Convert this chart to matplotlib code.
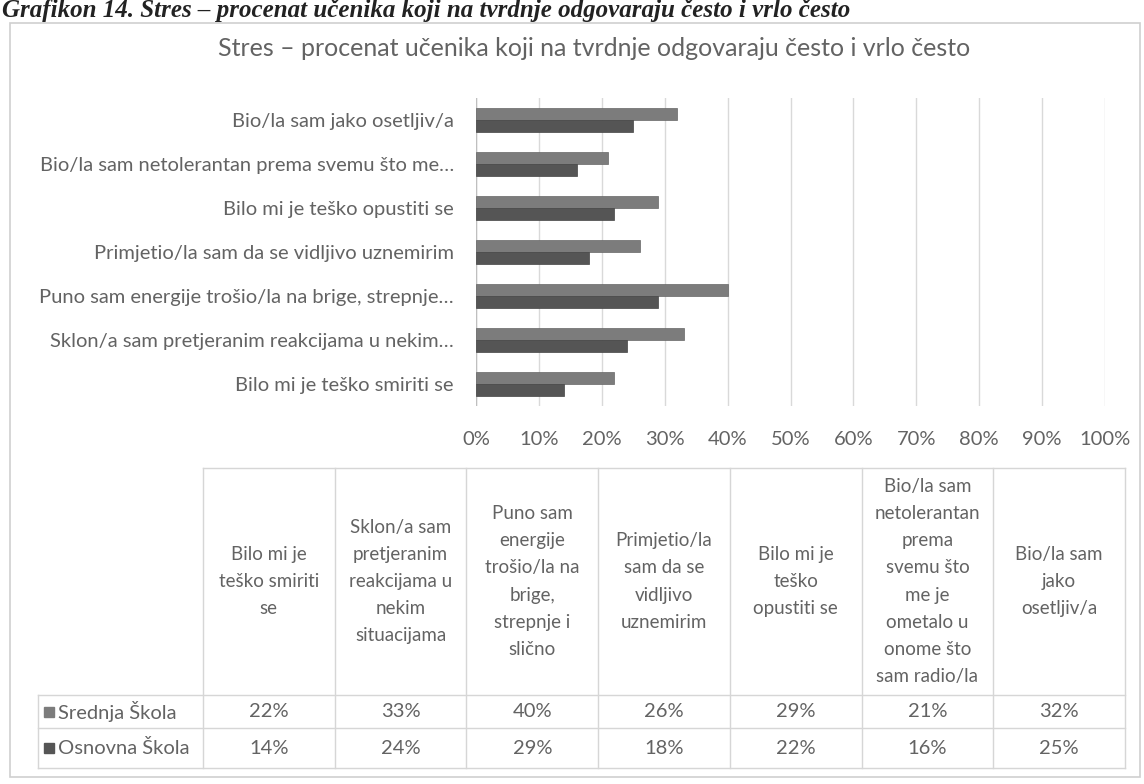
import matplotlib
matplotlib.use("Agg")
import matplotlib.pyplot as plt
import numpy as np

# data: order as in the data table (first = bottom bar of chart)
categories = [
    "Bilo mi je\nteško smiriti\nse",
    "Sklon/a sam\npretjeranim\nreakcijama u\nnekim\nsituacijama",
    "Puno sam\nenergije\ntrošio/la na\nbrige,\nstrepnje i\nslično",
    "Primjetio/la\nsam da se\nvidljivo\nuznemirim",
    "Bilo mi je\nteško\nopustiti se",
    "Bio/la sam\nnetolerantan\nprema\nsvemu što\nme je\nometalo u\nonome što\nsam radio/la",
    "Bio/la sam\njako\nosetljiv/a",
]
axis_labels = [
    "Bilo mi je teško smiriti se",
    "Sklon/a sam pretjeranim reakcijama u nekim…",
    "Puno sam energije trošio/la na brige, strepnje…",
    "Primjetio/la sam da se vidljivo uznemirim",
    "Bilo mi je teško opustiti se",
    "Bio/la sam netolerantan prema svemu što me…",
    "Bio/la sam jako osetljiv/a",
]
series_names = ["Srednja Škola", "Osnovna Škola"]
srednja = [22, 33, 40, 26, 29, 21, 32]
osnovna = [14, 24, 29, 18, 22, 16, 25]
x_ticks = [0, 10, 20, 30, 40, 50, 60, 70, 80, 90, 100]

caption = "Grafikon 14. Stres – procenat učenika koji na tvrdnje odgovaraju često i vrlo često"
title = "Stres – procenat učenika koji na tvrdnje odgovaraju često i vrlo često"

C_SRED = "#7c7c7c"
C_OSN = "#555555"
TXT = "#636363"
GRID = "#d9d9d9"

plt.rcParams['font.family'] = ['Lato', 'DejaVu Sans']

W, H = 1144, 784
fig = plt.figure(figsize=(W / 100, H / 100), dpi=100)
fig.patch.set_facecolor("white")

# overlay in pixel coords for border, title, table
ov = fig.add_axes([0, 0, 1, 1])
ov.set_xlim(0, W)
ov.set_ylim(H, 0)
ov.axis("off")

ov.text(2, 17, caption, fontsize=18, fontweight="bold", style="italic",
        family=["Liberation Serif", "DejaVu Serif"], color="#222222",
        ha="left", va="baseline")
ov.add_patch(plt.Rectangle((10, 23), W - 14, 754, fill=False, ec="#cfcfcf", lw=1.2))
ov.text(594, 48, title, fontsize=18, color=TXT, ha="center", va="center")

# bar chart
ax = fig.add_axes([476 / W, 1 - 406 / H, (1105 - 476) / W, (406 - 98) / H])
y = np.arange(len(categories))
h = 0.27
ax.barh(y + h / 2, srednja, height=h, color=C_SRED, edgecolor="#666666", lw=0.5, zorder=3)
ax.barh(y - h / 2, osnovna, height=h, color=C_OSN, edgecolor="#444444", lw=0.5, zorder=3)
ax.set_xlim(0, 100)
ax.set_ylim(-0.5, len(categories) - 0.5)
ax.set_xticks(x_ticks)
ax.set_xticklabels([f"{t}%" for t in x_ticks], fontsize=14.5, color=TXT)
ax.set_yticks(y)
ax.set_yticklabels(axis_labels, fontsize=14.5, color=TXT)
ax.tick_params(length=0)
ax.tick_params(axis="y", pad=16)
ax.tick_params(axis="x", pad=18)
ax.grid(axis="x", color=GRID, lw=1)
ax.set_axisbelow(True)
for s in ax.spines.values():
    s.set_visible(False)
ax.axvline(0, color="#bfbfbf", lw=1, zorder=2)

# data table
left, col0_r, right = 38, 203, 1125
n = len(categories)
cw = (right - col0_r) / n
top, hdr_b, r1_b, bot = 468, 695, 728, 768
lc = "#d6d6d6"
ov.plot([col0_r, right], [top, top], color=lc, lw=1)
ov.plot([left, right], [hdr_b, hdr_b], color=lc, lw=1)
ov.plot([left, right], [r1_b, r1_b], color=lc, lw=1)
ov.plot([left, right], [bot, bot], color=lc, lw=1)
ov.plot([left, left], [hdr_b, bot], color=lc, lw=1)
for i in range(n + 1):
    xx = col0_r + i * cw
    ov.plot([xx, xx], [top, bot], color=lc, lw=1)
for i, cat in enumerate(categories):
    cx = col0_r + (i + 0.5) * cw
    ov.text(cx, (top + hdr_b) / 2, cat, fontsize=13.5, color=TXT, ha="center",
            va="center", linespacing=1.72)
    ov.text(cx, (hdr_b + r1_b) / 2, f"{srednja[i]}%", fontsize=14.5, color=TXT,
            ha="center", va="center")
    ov.text(cx, (r1_b + bot) / 2, f"{osnovna[i]}%", fontsize=14.5, color=TXT,
            ha="center", va="center")
for (yy0, yy1), name, c in zip([(hdr_b, r1_b), (r1_b, bot)], series_names, [C_SRED, C_OSN]):
    ym = (yy0 + yy1) / 2
    ov.add_patch(plt.Rectangle((44, ym - 5), 10, 10, color=c))
    ov.text(58, ym, name, fontsize=14.5, color=TXT, ha="left", va="center")

fig.savefig("out.png", dpi=100, facecolor="white")
